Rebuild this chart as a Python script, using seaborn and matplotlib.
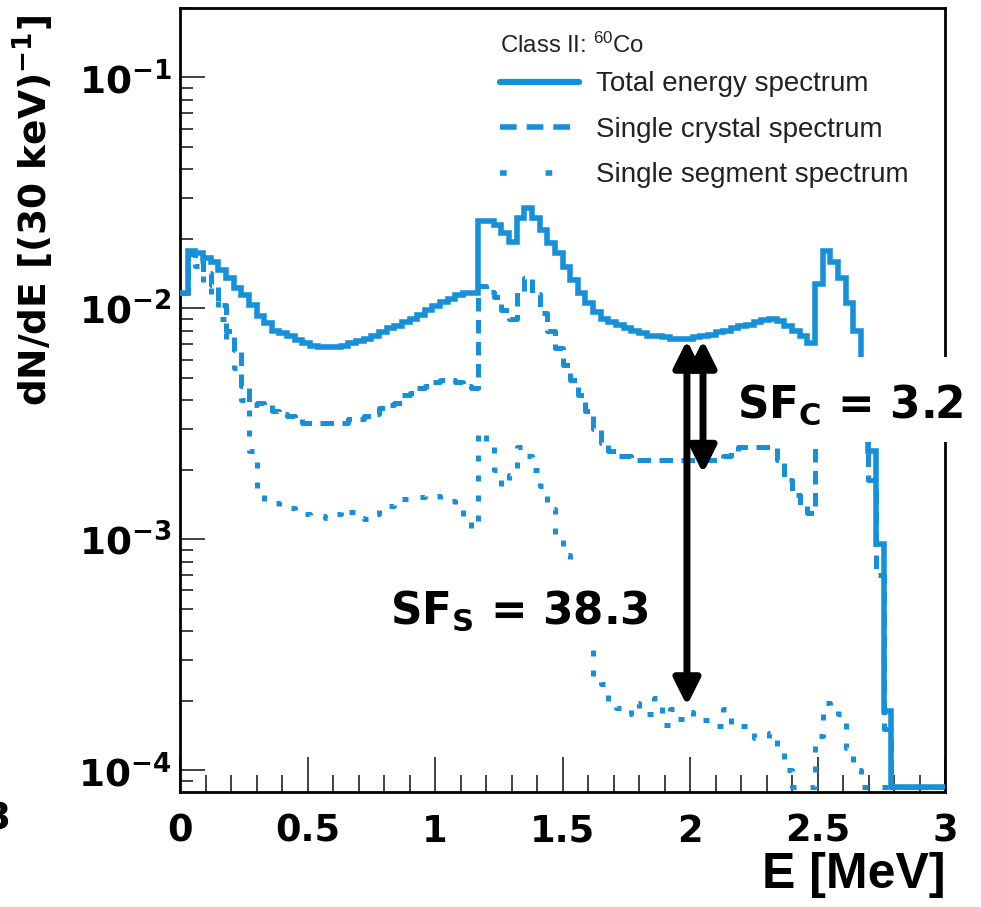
import numpy as np
import matplotlib
matplotlib.use("Agg")
import matplotlib.pyplot as plt
import seaborn as sns
from matplotlib.lines import Line2D
from matplotlib.patches import Rectangle
from matplotlib.ticker import MultipleLocator, LogLocator, FuncFormatter

# ---------------- data (30 keV bins, 0 - 3 MeV) ----------------
E_MIN, E_MAX, N_BINS = 0.0, 3.0, 100

total_spectrum = [
    0.0117, 0.0178, 0.0173, 0.0166, 0.0158, 0.0146, 0.0135, 0.0123, 0.0114, 0.0103,
    0.0093, 0.0086, 0.0080, 0.0078, 0.0076, 0.0073, 0.0071, 0.0069, 0.0068, 0.0068,
    0.0068, 0.0069, 0.0071, 0.0072, 0.0074, 0.0076, 0.0079, 0.0082, 0.0084, 0.0087,
    0.0090, 0.0094, 0.0098, 0.0102, 0.0106, 0.0110, 0.0114, 0.0116, 0.0117, 0.0240,
    0.0240, 0.0229, 0.0212, 0.0193, 0.0246, 0.0271, 0.0246, 0.0218, 0.0191, 0.0173,
    0.0151, 0.0132, 0.0117, 0.0105, 0.0096, 0.0090, 0.0087, 0.0085, 0.0082, 0.0080,
    0.0078, 0.0076, 0.0076, 0.0075, 0.0074, 0.0074, 0.0074, 0.0075, 0.0076, 0.0077,
    0.0079, 0.0080, 0.0082, 0.0084, 0.0085, 0.0087, 0.0089, 0.0090, 0.0088, 0.0084,
    0.0080, 0.0076, 0.0071, 0.0128, 0.0178, 0.0158, 0.0136, 0.0105, 0.0080, 0.0050,
    0.0024, 0.00095, 0.00018, 0, 0, 0, 0, 0, 0, 0,
]

crystal_spectrum = [
    0.0117, 0.0172, 0.0160, 0.0142, 0.0126, 0.0103, 0.0080, 0.0066, 0.0046, 0.0038,
    0.0039, 0.0038, 0.0036, 0.0035, 0.0034, 0.0033, 0.0032, 0.0032, 0.0032, 0.0032,
    0.0032, 0.0032, 0.0033, 0.0033, 0.0034, 0.0035, 0.0037, 0.0038, 0.0039, 0.0042,
    0.0043, 0.0045, 0.0046, 0.0048, 0.0049, 0.0049, 0.0048, 0.0046, 0.0045, 0.0125,
    0.0118, 0.0112, 0.0098, 0.0090, 0.0118, 0.0135, 0.0115, 0.0095, 0.0080, 0.0067,
    0.0057, 0.0049, 0.0042, 0.0036, 0.0030, 0.0026, 0.0024, 0.0023, 0.0023, 0.0022,
    0.0022, 0.0022, 0.0022, 0.0022, 0.0022, 0.0022, 0.0022, 0.0022, 0.0022, 0.0022,
    0.0022, 0.0023, 0.0024, 0.0025, 0.0025, 0.0025, 0.0025, 0.0025, 0.0022, 0.0018,
    0.00155, 0.0014, 0.0013, 0.0040, 0.0052, 0.0050, 0.0045, 0.0040, 0.0036, 0.0030,
    0.0018, 0.0007, 0.00015, 0, 0, 0, 0, 0, 0, 0,
]

segment_spectrum = [
    0.0117, 0.0168, 0.0152, 0.0130, 0.0110, 0.0090, 0.0072, 0.0055, 0.0040, 0.0024,
    0.00155, 0.00146, 0.00143, 0.00139, 0.00137, 0.00132, 0.00129, 0.00127, 0.00126, 0.00124,
    0.00129, 0.00135, 0.00131, 0.00123, 0.00122, 0.00128, 0.00136, 0.00139, 0.00146, 0.00149,
    0.00150, 0.00152, 0.00155, 0.00154, 0.00150, 0.00147, 0.00134, 0.00121, 0.00112, 0.0029,
    0.0025, 0.0020, 0.0017, 0.0019, 0.0025, 0.0023, 0.0020, 0.0017, 0.00135, 0.00099,
    0.00085, 0.00062, 0.00045, 0.00033, 0.00025, 0.000235, 0.000194, 0.000185, 0.000175, 0.000195,
    0.00018, 0.000175, 0.000205, 0.000157, 0.000184, 0.000167, 0.000178, 0.000164, 0.000164, 0.000164,
    0.000155, 0.000184, 0.000154, 0.000155, 0.000155, 0.000138, 0.000138, 0.000144, 0.000119, 0.000100,
    0, 0, 0, 0.00014, 0.000195, 0.00018, 0.000175, 0.000125, 0.0001, 0,
    0, 0, 0, 0, 0, 0, 0, 0, 0, 0,
]

series_labels = ["Total energy spectrum", "Single crystal spectrum", "Single segment spectrum"]
legend_title = "Class II: $^{60}$Co"
x_label = "E [MeV]"
y_label = r"dN/dE [(30 keV)$^{\mathbf{-1}}$]"
x_ticks = [0, 0.5, 1, 1.5, 2, 2.5, 3]
x_tick_labels = ["0", "0.5", "1", "1.5", "2", "2.5", "3"]

# annotation values
sf_energy = [1.988, 2.051]          # arrow positions (MeV)
sf_top = 0.00727                   # total spectrum level near 2 MeV
sf_c_bottom = 0.00193
sf_s_bottom = 0.00019
sf_c_text = r"SF$_{\mathbf{C}}$ = 3.2"
sf_s_text = r"SF$_{\mathbf{S}}$ = 38.3"

# ---------------- style ----------------
sns.set_theme(style="ticks")
plt.rcParams["font.family"] = ["Liberation Sans", "DejaVu Sans"]
plt.rcParams["mathtext.fontset"] = "dejavusans"
plt.rcParams["mathtext.rm"] = "Liberation Sans"
plt.rcParams["mathtext.bf"] = "Liberation Sans:bold"
plt.rcParams["mathtext.it"] = "Liberation Sans:italic"
for key in ["text.color", "axes.labelcolor", "xtick.labelcolor", "ytick.labelcolor"]:
    plt.rcParams[key] = "black"

BLUE = "#1690d8"
YMIN, YMAX = 8.03e-5, 0.2
FLOOR = 8.45e-5

W, H = 981, 907
fig = plt.figure(figsize=(W / 100, H / 100), dpi=100)
fig.patch.set_facecolor("white")
ax = fig.add_axes([180 / W, 1 - 792 / H, 765 / W, 784 / H])
ax.set_facecolor("white")
ax.set_yscale("log")

edges = np.linspace(E_MIN, E_MAX, N_BINS + 1)


def step_xy(vals):
    v = np.maximum(np.asarray(vals, dtype=float), FLOOR)
    return edges, np.append(v, v[-1])


styles = [
    dict(linestyle="-", lw=4.0, zorder=4),
    dict(linestyle=(0, (2.7, 1.7)), lw=3.6, zorder=3),
    dict(linestyle=(0, (1.2, 2.8)), lw=3.6, zorder=2),
]
for vals, st in zip([total_spectrum, crystal_spectrum, segment_spectrum], styles):
    xs, ys = step_xy(vals)
    sns.lineplot(x=xs, y=ys, ax=ax, color=BLUE, drawstyle="steps-post",
                 estimator=None, sort=False, legend=False,
                 solid_joinstyle="miter", **st)

ax.set_xlim(E_MIN, E_MAX)
ax.set_ylim(YMIN, YMAX)

# ticks
ax.xaxis.set_minor_locator(MultipleLocator(0.1))
ax.set_xticks(x_ticks)
ax.set_xticklabels(x_tick_labels)
ax.yaxis.set_major_locator(LogLocator(base=10, numticks=10))
ax.yaxis.set_minor_locator(LogLocator(base=10, subs=np.arange(2, 10), numticks=30))
ax.yaxis.set_major_formatter(FuncFormatter(lambda v, p: r"$\mathbf{10^{%d}}$" % round(np.log10(v))))
ax.tick_params(which="both", direction="in", top=False, right=False, color="#333333", width=1.3)
ax.tick_params(axis="x", which="major", length=25, pad=15, labelsize=26.5, labelcolor="black")
ax.tick_params(axis="x", which="minor", length=12)
ax.tick_params(axis="y", which="major", length=18, pad=6, labelsize=27, labelcolor="black")
ax.tick_params(axis="y", which="minor", length=9)
for sp in ax.spines.values():
    sp.set_linewidth(2.0)
    sp.set_color("black")
    sp.set_visible(True)

fig.canvas.draw()
for lbl in ax.get_xticklabels():
    lbl.set_fontfamily("DejaVu Sans")
    lbl.set_fontweight("bold")
for lbl in ax.get_yticklabels():
    lbl.set_fontweight("bold")

# axis labels
ax.set_xlabel(x_label, loc="right", fontsize=36, fontweight="bold",
              fontfamily="Liberation Sans", color="black")
ax.xaxis.set_label_coords(1.0, -0.0765)
ax.set_ylabel(y_label, loc="top", fontsize=27, fontweight="bold",
              fontfamily="DejaVu Sans", color="black")
ax.yaxis.set_label_coords(-0.162, 0.991)

# legend (proxy handles reproduce the legend's own dash spacing)
proxies = [
    Line2D([], [], color=BLUE, lw=4.5, linestyle="-"),
    Line2D([], [], color=BLUE, lw=4.0, linestyle=(0, (3.0, 1.8))),
    Line2D([], [], color=BLUE, lw=4.0, linestyle=(0, (1.2, 7.0))),
]
LEG_FS = 20
leg = ax.legend(proxies, series_labels, title=legend_title, loc="upper left",
                bbox_to_anchor=(500 / W, 1 - 33 / H), bbox_transform=fig.transFigure,
                frameon=False, fontsize=LEG_FS, title_fontsize=17.3, handlelength=2.85,
                handletextpad=0.62, labelspacing=0.7, borderpad=0, borderaxespad=0,
                alignment="left")
leg._legend_box.sep = 0.7 * LEG_FS - 4.5
leg.get_title().set_math_fontfamily("custom")
leg.get_title().set_color("#222222")
for t in leg.get_texts():
    t.set_color("#222222")

# SF arrows
for xe, yb in zip(sf_energy, [sf_s_bottom, sf_c_bottom]):
    ax.annotate("", xy=(xe, yb), xytext=(xe, sf_top),
                arrowprops=dict(arrowstyle="<|-|>", color="black", lw=5, mutation_scale=40,
                                shrinkA=0, shrinkB=0), zorder=6)

# white boxes behind the SF labels
fig.add_artist(Rectangle((730 / W, 1 - 442 / H), 251 / W, 85 / H, transform=fig.transFigure,
                         facecolor="white", edgecolor="none", zorder=2))
fig.add_artist(Rectangle((385 / W, 1 - 648 / H), 265 / W, 83 / H, transform=fig.transFigure,
                         facecolor="white", edgecolor="none", zorder=2))
fig.text(737 / W, 1 - 418 / H, sf_c_text, fontsize=31.5, fontweight="bold", color="black",
         fontfamily="DejaVu Sans", va="baseline", ha="left", zorder=3)
fig.text(390 / W, 1 - 624 / H, sf_s_text, fontsize=31.5, fontweight="bold", color="black",
         fontfamily="DejaVu Sans", va="baseline", ha="left", zorder=3)

# cropped neighbouring label at the left edge
fig.text(-16 / W, 1 - 820 / H, "3", fontsize=27, fontweight="bold", fontfamily="DejaVu Sans",
         ha="left", va="center", color="black")

fig.savefig("out.png", dpi=100, facecolor="white")
